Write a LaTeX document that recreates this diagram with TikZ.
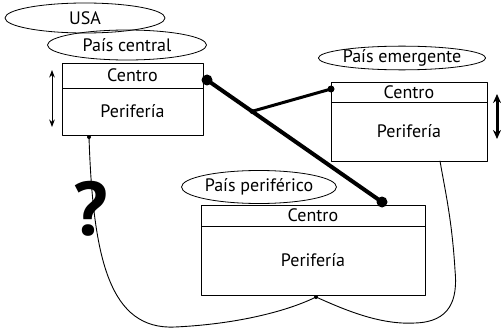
\documentclass[tikz,border=0pt]{standalone}
\usepackage{fontspec}
\setmainfont{PT Sans}
\usetikzlibrary{positioning,shapes.geometric,arrows.meta,calc}

\begin{document}
\begin{tikzpicture}[x=1pt,y=-1pt,>=Stealth,line join=round,line cap=round,
    font=\fontsize{18}{20}\selectfont,
    pais/.style={draw,ellipse,inner sep=0pt,line width=.8pt},
    celda/.style={draw,rectangle,inner sep=0pt,outer sep=0pt,line width=.9pt}]
    \useasboundingbox (0,0) rectangle (501,329);
    % etiquetas de los paises
    \node[pais,minimum width=160pt,minimum height=30pt] (usa) at (85,18) {USA\hspace{18pt}};
    \node[pais,minimum width=159pt,minimum height=30pt] (central) at (127,45) {País central};
    \node[pais,minimum width=160pt,minimum height=21pt] (emerg) at (402,58) {País emergente};
    \node[pais,minimum width=155pt,minimum height=33pt] (perif) at (259,187) {País periférico};
    % pais central
    \node[celda,minimum width=141pt,minimum height=25pt,anchor=north west] (cenC) at (62,63) {Centro};
    \node[celda,minimum width=141pt,minimum height=47pt,below=0pt of cenC] (cenP) {Perifería};
    % pais emergente
    \node[celda,minimum width=156pt,minimum height=20pt,anchor=north west] (emgC) at (331,82) {Centro};
    \node[celda,minimum width=156pt,minimum height=59pt,below=0pt of emgC] (emgP) {Perifería};
    % pais periferico
    \node[celda,minimum width=224pt,minimum height=21pt,anchor=north west] (perC) at (201,205) {Centro};
    \node[celda,minimum width=224pt,minimum height=69pt,below=0pt of perC] (perP) {Perifería};
    % movilidad
    \draw[<->,line width=1pt] (52,70) -- (52,127);
    \draw[{Stealth[length=9pt,width=8pt]}-{Stealth[length=9pt,width=8pt]},line width=3pt] (497,94) -- (497,139);
    % relaciones de dependencia
    \coordinate (d1) at (207,80);
    \coordinate (d2) at (382,202);
    \coordinate (d3) at (331,89);
    \coordinate (d4) at ($(d1)!.257!(d2)$);
    \draw[line width=4pt] (d1) -- (d2);
    \draw[line width=3pt] (d4) -- (d3);
    \fill (d1) circle (5.5);
    \fill (d2) circle (5.5);
    \fill (d3) circle (3.5);
    \fill (d4) circle (2.5);
    % flujos desde la periferia
    \coordinate (a) at (89,137);
    \coordinate (b) at (316,297);
    \coordinate (e) at (440,161);
    \draw[line width=.9pt] (a) .. controls (93,260) and (110,330) .. (175,327)
        .. controls (240,324) and (290,310) .. (b)
        .. controls (345,310) and (380,325) .. (415,323)
        .. controls (450,322) and (458,300) .. (455,270)
        .. controls (452,220) and (445,190) .. (e);
    \fill (a) circle (2);
    \fill (b) circle (2);
    \node[font=\fontsize{76}{76}\selectfont\bfseries] (q) at (91,209) {?};
\end{tikzpicture}
\end{document}
